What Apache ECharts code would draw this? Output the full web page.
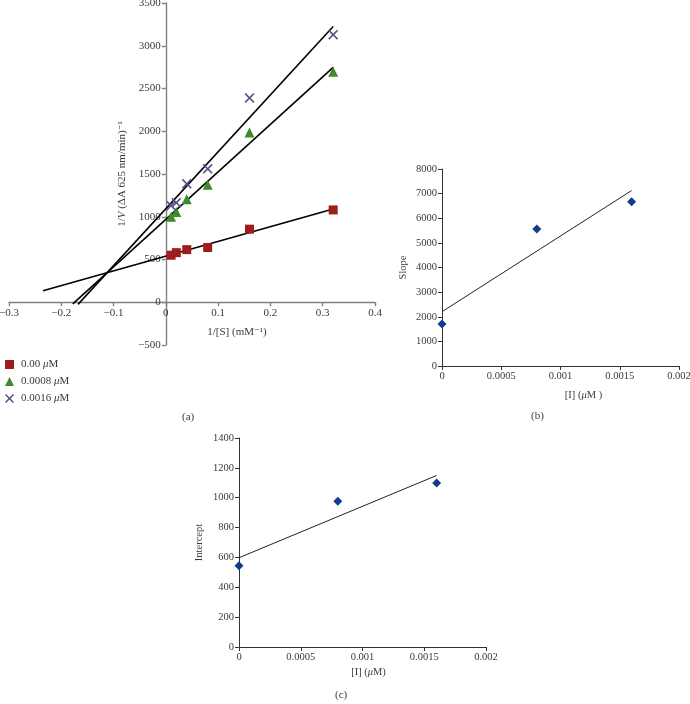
<!DOCTYPE html>
<html>
<head>
<meta charset="utf-8">
<script src="https://cdn.jsdelivr.net/npm/echarts@6/dist/echarts.min.js"></script>
<style>html,body{margin:0;padding:0;background:#fff}#c{width:690px;height:704px}</style>
</head>
<body>
<div id="c"></div>
<script>
// ---- Panel (a): Lineweaver-Burk data ----
var invS = [0.01, 0.02, 0.04, 0.08, 0.16, 0.32];
var seriesNames = ['0.00 μM', '0.0008 μM', '0.0016 μM'];
var invV_0 = [550, 580, 615, 640, 855, 1080];
var invV_0008 = [1000, 1055, 1205, 1375, 1985, 2695];
var invV_0016 = [1130, 1165, 1385, 1560, 2390, 3130];
// trend line endpoints [x, y]
var fit_0 = [[-0.235, 135], [0.32, 1090]];
var fit_0008 = [[-0.178, -20], [0.32, 2748]];
var fit_0016 = [[-0.168, -25], [0.32, 3225]];
var xTicksA = [-0.3, 0.4, 0.1];
var yTicksA = [-500, 3500, 500];

// ---- Panel (b): secondary plot of slopes ----
var inhib = [0, 0.0008, 0.0016];
var slopes = [1705, 5560, 6670];
var fitSlope = [[0, 2205], [0.0016, 7125]];
// ---- Panel (c): secondary plot of intercepts ----
var intercepts = [545, 976, 1099];
var fitIntercept = [[0, 598], [0.0016, 1149]];

var serif = '"Liberation Serif","DejaVu Serif",serif';
var txt = '#3a3a3a';
function neg(v){ return String(v).replace('-', '−'); }
function pairs(xs, ys){ return xs.map(function(x,i){ return [x, ys[i]]; }); }
var xShape = 'path://M0,1.2L1.2,0L5,3.8L8.8,0L10,1.2L6.2,5L10,8.8L8.8,10L5,6.2L1.2,10L0,8.8L3.8,5Z';
var icons = ['rect', 'triangle', xShape];
var colors = ['#9e1c1c', '#3f8a2c', '#56528f'];

var gridA = {left: 9, top: 3, width: 366, height: 342, outerBoundsMode: 'none', containLabel: false};
// place panel (a) axes so that they cross at zero
var yOffA = -(0 - xTicksA[0]) / (xTicksA[1] - xTicksA[0]) * gridA.width;
var xOffA = -(0 - yTicksA[0]) / (yTicksA[1] - yTicksA[0]) * gridA.height;

function axisCommon(color, width, fs){
  return {
    axisLine: {show: true, onZero: false, lineStyle: {color: color, width: width}},
    axisTick: {show: true, length: 4, lineStyle: {color: color, width: width}},
    splitLine: {show: false},
    axisLabel: {color: txt, fontFamily: serif, fontSize: fs, formatter: neg, margin: 5},
    nameTextStyle: {color: txt, fontFamily: serif, fontSize: fs}
  };
}
function mk(base, extra){ return Object.assign({}, base, extra); }

var aA = axisCommon('#808080', 1.4, 11);
var aB = axisCommon('#333', 1, 10.5);

var option = {
  animation: false,
  grid: [
    gridA,
    {left: 442, top: 169, width: 237, height: 197, outerBoundsMode: 'none', containLabel: false},
    {left: 239, top: 438, width: 247, height: 209, outerBoundsMode: 'none', containLabel: false}
  ],
  xAxis: [
    mk(aA, {type: 'value', gridIndex: 0, min: xTicksA[0], max: xTicksA[1], interval: xTicksA[2], offset: xOffA,
      name: '1/[S] (mM⁻¹)', nameLocation: 'middle', nameGap: 24,
      nameTextStyle: {color: txt, fontFamily: serif, fontSize: 11, padding: [0, 0, 0, 90]}}),
    mk(aB, {type: 'value', gridIndex: 1, min: 0, max: 0.002, interval: 0.0005,
      name: '[I] ({i|μ}M )', nameLocation: 'middle', nameGap: 24,
      nameTextStyle: {color: txt, fontFamily: serif, fontSize: 10.5, padding: [0, 0, 0, 46], rich: {i: {fontStyle: 'italic', fontFamily: serif, fontSize: 10.5, color: txt}}}}),
    mk(aB, {type: 'value', gridIndex: 2, min: 0, max: 0.002, interval: 0.0005,
      name: '[I] ({i|μ}M)', nameLocation: 'middle', nameGap: 20,
      nameTextStyle: {color: txt, fontFamily: serif, fontSize: 10.5, padding: [0, 0, 0, 12], rich: {i: {fontStyle: 'italic', fontFamily: serif, fontSize: 10.5, color: txt}}}})
  ],
  yAxis: [
    mk(aA, {type: 'value', gridIndex: 0, min: yTicksA[0], max: yTicksA[1], interval: yTicksA[2], offset: yOffA,
      name: '1/{i|V} (ΔA 625 nm/min)⁻¹', nameLocation: 'middle', nameGap: 31,
      nameTextStyle: {color: txt, fontFamily: serif, fontSize: 11, rich: {i: {fontStyle: 'italic', fontFamily: serif, fontSize: 11, color: txt}}}}),
    mk(aB, {type: 'value', gridIndex: 1, min: 0, max: 8000, interval: 1000,
      name: 'Slope', nameLocation: 'middle', nameGap: 33}),
    mk(aB, {type: 'value', gridIndex: 2, min: 0, max: 1400, interval: 200,
      name: 'Intercept', nameLocation: 'middle', nameGap: 34})
  ],
  legend: {
    orient: 'vertical', left: 0, top: 354, itemGap: 6, itemWidth: 9, itemHeight: 9,
    data: seriesNames.map(function(n, i){ return {name: n, icon: icons[i]}; }),
    formatter: function(n){ return n.replace('μ', '{i|μ}'); },
    textStyle: {color: txt, fontFamily: serif, fontSize: 11, padding: [0, 0, 0, 2], rich: {i: {fontStyle: 'italic', fontFamily: serif, fontSize: 11, color: txt}}}
  },
  graphic: [
    {type: 'text', left: 182, top: 412, style: {text: '(a)', font: '11px ' + serif, fill: txt}},
    {type: 'text', left: 531, top: 411, style: {text: '(b)', font: '11px ' + serif, fill: txt}},
    {type: 'text', left: 335, top: 690, style: {text: '(c)', font: '11px ' + serif, fill: txt}}
  ],
  series: [
    {type: 'line', xAxisIndex: 0, yAxisIndex: 0, data: fit_0, symbol: 'none', silent: true, lineStyle: {color: '#000', width: 1.6}, z: 1},
    {type: 'line', xAxisIndex: 0, yAxisIndex: 0, data: fit_0008, symbol: 'none', silent: true, lineStyle: {color: '#000', width: 1.6}, z: 1},
    {type: 'line', xAxisIndex: 0, yAxisIndex: 0, data: fit_0016, symbol: 'none', silent: true, lineStyle: {color: '#000', width: 1.6}, z: 1},
    {type: 'scatter', name: seriesNames[0], xAxisIndex: 0, yAxisIndex: 0, data: pairs(invS, invV_0), symbol: icons[0], symbolSize: 9, itemStyle: {color: colors[0], opacity: 1}, z: 3},
    {type: 'scatter', name: seriesNames[1], xAxisIndex: 0, yAxisIndex: 0, data: pairs(invS, invV_0008), symbol: icons[1], symbolSize: 10, itemStyle: {color: colors[1], opacity: 1}, z: 3},
    {type: 'scatter', name: seriesNames[2], xAxisIndex: 0, yAxisIndex: 0, data: pairs(invS, invV_0016), symbol: icons[2], symbolSize: 10, itemStyle: {color: colors[2], opacity: 1}, z: 3},
    {type: 'line', xAxisIndex: 1, yAxisIndex: 1, data: fitSlope, symbol: 'none', silent: true, lineStyle: {color: '#222', width: 1}},
    {type: 'scatter', xAxisIndex: 1, yAxisIndex: 1, data: pairs(inhib, slopes), symbol: 'diamond', symbolSize: 9, itemStyle: {color: '#123d8f', opacity: 1}},
    {type: 'line', xAxisIndex: 2, yAxisIndex: 2, data: fitIntercept, symbol: 'none', silent: true, lineStyle: {color: '#222', width: 1}},
    {type: 'scatter', xAxisIndex: 2, yAxisIndex: 2, data: pairs(inhib, intercepts), symbol: 'diamond', symbolSize: 9, itemStyle: {color: '#123d8f', opacity: 1}}
  ]
};
var chart = echarts.init(document.getElementById('c'));
chart.setOption(option);
</script>
</body>
</html>
